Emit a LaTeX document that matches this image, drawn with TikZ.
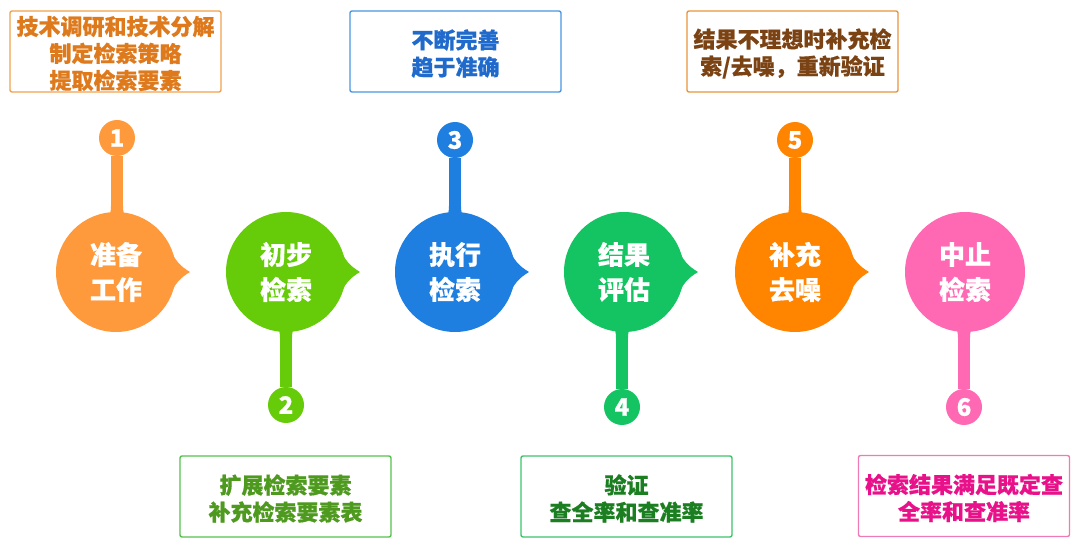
\documentclass[tikz,border=0pt]{standalone}
\usepackage{fontspec}
\setmainfont{Noto Sans CJK SC}[BoldFeatures={FakeBold=0.6}]
\begin{document}
\begin{tikzpicture}[x=1pt,y=-1pt,
  big/.style={circle,fill=#1,minimum size=120pt,inner sep=0pt,text=white,align=center,
    font=\bfseries\fontsize{26}{35}\selectfont},
  num/.style={circle,fill=#1,minimum size=36pt,inner sep=0pt,text=white,
    font=\bfseries\fontsize{24}{24}\selectfont},
  stem/.style={line width=12pt,draw=#1},
  infobox/.style={draw=#1,line width=1.4pt,rounded corners=2pt,minimum width=211pt,
    minimum height=81pt,inner sep=0pt,align=center,fill=white},
  infotext/.style={font=\bfseries\fontsize{22}{27}\selectfont}
]
\definecolor{orA}{HTML}{FF9A3C}
\definecolor{grB}{HTML}{66CC0A}
\definecolor{blC}{HTML}{1E7FE0}
\definecolor{grD}{HTML}{14C462}
\definecolor{orE}{HTML}{FF8500}
\definecolor{pkF}{HTML}{FF69B4}
\definecolor{bdA}{HTML}{F2A24E}
\definecolor{txA}{HTML}{DE7A1C}
\definecolor{bdB}{HTML}{55C24E}
\definecolor{txB}{HTML}{4E9A1E}
\definecolor{bdC}{HTML}{4A96E2}
\definecolor{txC}{HTML}{1F6ACB}
\definecolor{bdD}{HTML}{3CC46A}
\definecolor{txD}{HTML}{1B7E20}
\definecolor{bdE}{HTML}{E8953A}
\definecolor{txE}{HTML}{7B4313}
\definecolor{bdF}{HTML}{F07AB5}
\definecolor{txF}{HTML}{E8118A}

\useasboundingbox (0,0) rectangle (1080,548);

% number badges
\node[num=orA] (s1) at (117,138) {1};
\node[num=grB] (s2) at (286,405) {2};
\node[num=blC] (s3) at (455,140) {3};
\node[num=grD] (s4) at (622,407) {4};
\node[num=orE] (s5) at (795,140) {5};
\node[num=pkF] (s6) at (964,407) {6};

% main circle centres
\coordinate (p1) at (116,272);
\coordinate (p2) at (286,272);
\coordinate (p3) at (455,272);
\coordinate (p4) at (624,272);
\coordinate (p5) at (795,272);
\coordinate (p6) at (965,272);

% stems
\draw[stem=orA] (s1) -- (s1 |- p1);
\draw[stem=grB] (s2) -- (s2 |- p2);
\draw[stem=blC] (s3) -- (s3 |- p3);
\draw[stem=grD] (s4) -- (s4 |- p4);
\draw[stem=orE] (s5) -- (s5 |- p5);
\draw[stem=pkF] (s6) -- (s6 |- p6);

% small flares where stems meet circles
\foreach \s/\p/\c/\d in {s1/p1/orA/-1,s3/p3/blC/-1,s5/p5/orE/-1,s2/p2/grB/1,s4/p4/grD/1,s6/p6/pkF/1}{
  \fill[\c] ([shift={(-12,\d*52)}]\s |- \p) .. controls ([shift={(-6,\d*56)}]\s |- \p) and ([shift={(-6,\d*62)}]\s |- \p) .. ([shift={(-6,\d*66)}]\s |- \p)
    -- ([shift={(6,\d*66)}]\s |- \p) .. controls ([shift={(6,\d*62)}]\s |- \p) and ([shift={(6,\d*56)}]\s |- \p) .. ([shift={(12,\d*52)}]\s |- \p) -- cycle;
}

% pointers
\foreach \p/\c in {p1/orA,p2/grB,p3/blC,p4/grD,p5/orE}{
  \fill[\c] ([shift={(40,-45)}]\p) -- ([shift={(52,-28)}]\p)
    .. controls ([shift={(58,-12)}]\p) and ([shift={(64,-6)}]\p) .. ([shift={(74,0)}]\p)
    .. controls ([shift={(64,6)}]\p) and ([shift={(58,12)}]\p) .. ([shift={(52,28)}]\p)
    -- ([shift={(40,45)}]\p) -- cycle;
}

\node[big=orA] (c1) at (p1) {准备\\工作};
\node[big=grB] (c2) at (p2) {初步\\检索};
\node[big=blC] (c3) at (p3) {执行\\检索};
\node[big=grD] (c4) at (p4) {结果\\评估};
\node[big=orE] (c5) at (p5) {补充\\去噪};
\node[big=pkF] (c6) at (p6) {中止\\检索};

% info boxes
\node[infobox=bdA] (b1) at (115.5,51.5) {};
\node[infotext,text=txA,align=center] (t1) at ([yshift=-2pt]b1) {技术调研和技术分解\\制定检索策略\\提取检索要素};
\node[infobox=bdC] (b3) at (455.5,51.5) {};
\node[infotext,text=txC,align=center] (t3) at ([yshift=-2pt]b3) {不断完善\\趋于准确};
\node[infobox=bdE] (b5) at (792.5,51.5) {};
\node[infotext,text=txE,align=center] (t5) at ([yshift=-2pt]b5) {结果不理想时补充检\\索/去噪，重新验证};
\node[infobox=bdB] (b2) at (285.5,496.5) {};
\node[infotext,text=txB,align=center] (t2) at ([yshift=-2pt]b2) {扩展检索要素\\补充检索要素表};
\node[infobox=bdD] (b4) at (626.5,496.5) {};
\node[infotext,text=txD,align=center] (t4) at ([yshift=-2pt]b4) {验证\\查全率和查准率};
\node[infobox=bdF] (b6) at (964,496) {};
\node[infotext,text=txF,align=center] (t6) at ([yshift=-2pt]b6) {检索结果满足既定查\\全率和查准率};
\end{tikzpicture}
\end{document}
